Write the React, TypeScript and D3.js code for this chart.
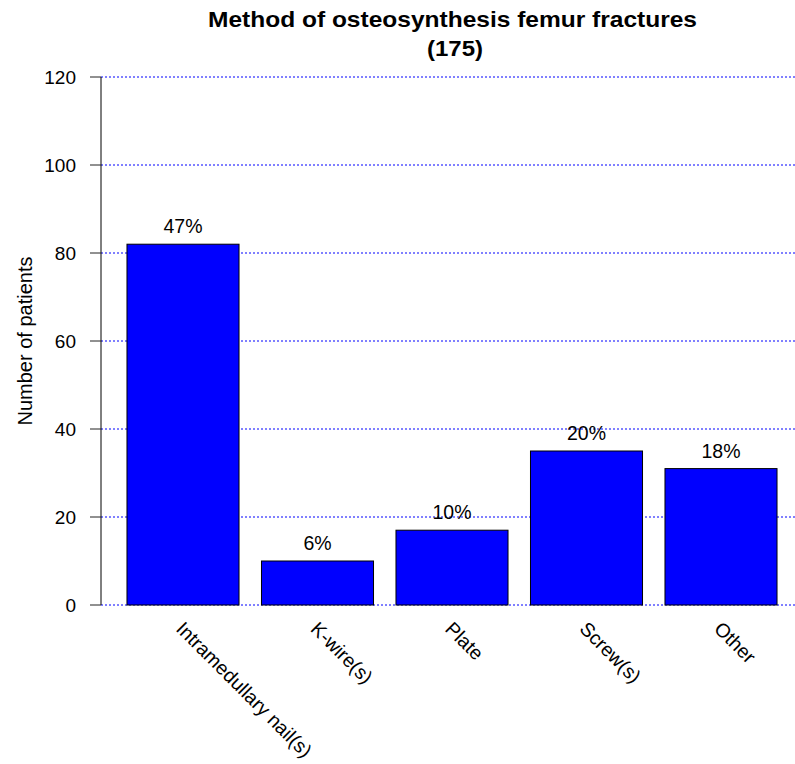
import React from "react";
import * as d3 from "d3";

const categories = ["Intramedullary nail(s)", "K-wire(s)", "Plate", "Screw(s)", "Other"];
const counts = [82, 10, 17, 35, 31];
const percentLabels = ["47%", "6%", "10%", "20%", "18%"];
const yTicks = [0, 20, 40, 60, 80, 100, 120];
const titleLines = ["Method of osteosynthesis femur fractures", "(175)"];
const yAxisLabel = "Number of patients";

const W = 795;
const H = 764;
const FONT = "'Liberation Sans', Arial, Helvetica, sans-serif";

export default function App() {
  const y = d3.scaleLinear().domain([0, 120]).range([605, 77]);
  const x = d3
    .scaleBand<string>()
    .domain(categories)
    .range([115.75, 788.25])
    .paddingInner(0.167)
    .paddingOuter(0.0835);
  const axisX = 101;
  const plotRight = 797;

  return (
    <svg
      width={W}
      height={H}
      style={{ position: "absolute", left: 0, top: 0, background: "#fff" }}
      fontFamily={FONT}
    >
      {/* title */}
      <text
        x={452.5}
        y={27}
        textAnchor="middle"
        fontSize={22}
        fontWeight="bold"
        textLength={489}
        lengthAdjust="spacingAndGlyphs"
      >
        {titleLines[0]}
      </text>
      <text
        x={455}
        y={56}
        textAnchor="middle"
        fontSize={22}
        fontWeight="bold"
        textLength={56}
        lengthAdjust="spacingAndGlyphs"
      >
        {titleLines[1]}
      </text>

      {/* gridlines */}
      {yTicks.map((t) => (
        <line
          key={"g" + t}
          x1={axisX}
          x2={plotRight}
          y1={y(t)}
          y2={y(t)}
          stroke="#0000ff"
          strokeWidth={1}
          strokeDasharray="2,2"
        />
      ))}

      {/* bars */}
      {categories.map((c, i) => (
        <rect
          key={c}
          x={x(c)!}
          y={y(counts[i])}
          width={x.bandwidth()}
          height={y(0) - y(counts[i])}
          fill="#0000ff"
          stroke="#000"
          strokeWidth={1}
        />
      ))}

      {/* percent labels */}
      {categories.map((c, i) => (
        <text
          key={"p" + c}
          x={x(c)! + x.bandwidth() / 2}
          y={y(counts[i]) - 11}
          textAnchor="middle"
          fontSize={19.5}
        >
          {percentLabels[i]}
        </text>
      ))}

      {/* y axis */}
      <line x1={axisX} x2={axisX} y1={y(120)} y2={y(0)} stroke="#000" strokeWidth={1} />
      {yTicks.map((t) => (
        <g key={"t" + t}>
          <line x1={axisX - 11} x2={axisX} y1={y(t)} y2={y(t)} stroke="#222" strokeWidth={1} />
          <text x={76} y={y(t)} dy="0.35em" textAnchor="end" fontSize={19}>
            {t}
          </text>
        </g>
      ))}

      {/* y axis label */}
      <text
        transform={`translate(32, ${(y(0) + y(120)) / 2}) rotate(-90)`}
        textAnchor="middle"
        fontSize={20}
      >
        {yAxisLabel}
      </text>

      {/* category labels */}
      {categories.map((c) => {
        const cx = x(c)! + x.bandwidth() / 2;
        return (
          <text
            key={"c" + c}
            transform={`translate(${cx - 8}, ${630}) rotate(45)`}
            textAnchor="start"
            fontSize={19.5}
          >
            {c}
          </text>
        );
      })}
    </svg>
  );
}
